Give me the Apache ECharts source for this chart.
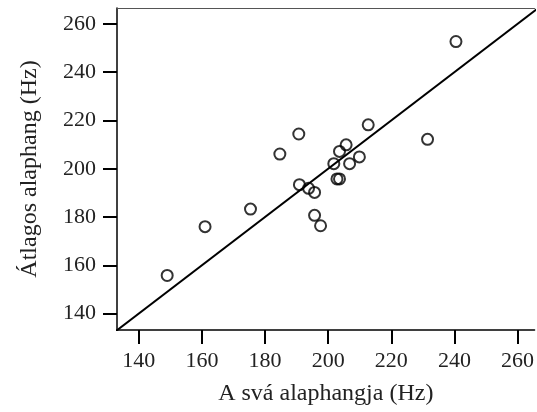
<!DOCTYPE html>
<html>
<head>
<meta charset="utf-8">
<script src="https://cdn.jsdelivr.net/npm/echarts@6/dist/echarts.min.js"></script>
<style>html,body{margin:0;padding:0;background:#fff;}#c{width:537px;height:412px;}</style>
</head>
<body>
<div id="c"></div>
<script>
const xValues = [149, 161, 175.4, 240.5, 212.7, 190.7, 231.5, 184.7, 205.7, 203.6, 209.9, 201.8, 206.8, 202.8, 203.6, 190.9, 193.8, 195.7, 195.7, 197.6];
const yValues = [155.8, 176.0, 183.3, 252.7, 218.2, 214.4, 212.2, 206.1, 209.9, 207.2, 204.9, 202.1, 202.1, 195.8, 195.8, 193.4, 191.9, 190.2, 180.7, 176.4];
const tickValues = [140, 160, 180, 200, 220, 240, 260];
const identityLine = [130, 270];
const xTitle = 'A svá alaphangja (Hz)';
const yTitle = 'Átlagos alaphang (Hz)';

const points = xValues.map((x, i) => [x, yValues[i]]);
const font = 'Liberation Serif';
const textColor = '#222';

const chart = echarts.init(document.getElementById('c'));
chart.setOption({
  animation: false,
  grid: { left: 117, right: -2, top: 8, bottom: 82, containLabel: false },
  xAxis: [{
    type: 'value', min: 133.1, max: 265.4, position: 'bottom',
    name: xTitle, nameLocation: 'middle', nameGap: 52,
    nameTextStyle: { fontFamily: font, fontSize: 24, color: textColor },
    splitLine: { show: false },
    axisLine: { show: true, lineStyle: { color: '#000', width: 1.5 } },
    axisTick: { show: true, inside: false, length: 14, customValues: tickValues, lineStyle: { color: '#000', width: 2 } },
    axisLabel: { customValues: tickValues, fontFamily: font, fontSize: 22, color: textColor, margin: 20 }
  }, {
    type: 'value', min: 133.1, max: 265.4, position: 'top',
    splitLine: { show: false },
    axisLine: { show: true, lineStyle: { color: '#555', width: 1 } },
    axisTick: { show: false }, axisLabel: { show: false }
  }],
  yAxis: {
    type: 'value', min: 133.2, max: 266.6,
    name: yTitle, nameLocation: 'middle', nameGap: 75,
    nameTextStyle: { fontFamily: font, fontSize: 24, color: textColor },
    splitLine: { show: false },
    axisLine: { show: true, lineStyle: { color: '#000', width: 1.5 } },
    axisTick: { show: true, inside: false, length: 14, customValues: tickValues, lineStyle: { color: '#000', width: 2 } },
    axisLabel: { customValues: tickValues, fontFamily: font, fontSize: 22, color: textColor, margin: 21 }
  },
  series: [{
    type: 'line',
    data: identityLine.map(v => [v, v]),
    showSymbol: false, symbol: 'none',
    clip: true,
    lineStyle: { color: '#000', width: 2 },
    z: 2
  }, {
    type: 'scatter',
    data: points,
    symbol: 'circle', symbolSize: 11,
    itemStyle: { color: 'rgba(0,0,0,0)', borderColor: '#000', borderWidth: 2 },
    z: 3
  }]
});
</script>
</body>
</html>
